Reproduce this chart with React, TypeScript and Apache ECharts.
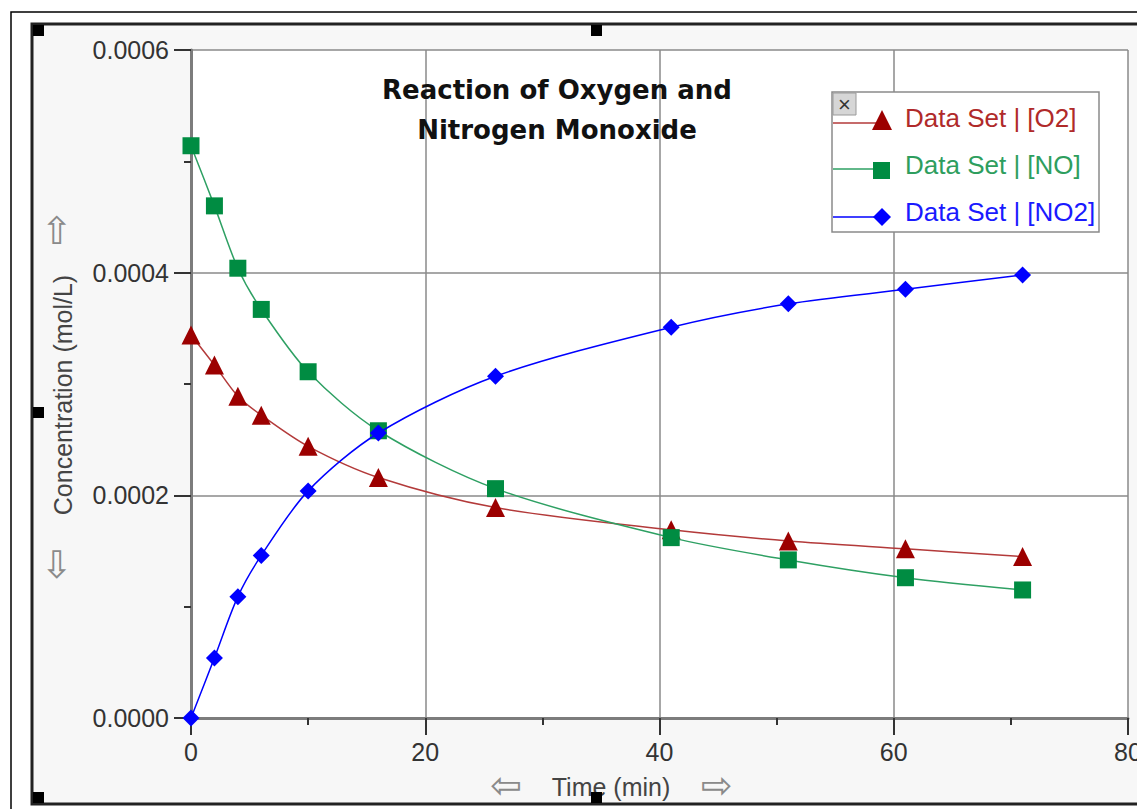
import React, { useEffect, useRef } from "react";
import * as echarts from "echarts";

const times = [0, 2, 4, 6, 10, 16, 26, 41, 51, 61, 71];
const o2 = [0.000344, 0.000317, 0.000289, 0.000272, 0.000244, 0.000216, 0.000189, 0.000169, 0.000159, 0.000152, 0.000145];
const no = [0.000514, 0.00046, 0.000404, 0.000367, 0.000311, 0.000258, 0.000206, 0.000162, 0.000142, 0.000126, 0.000115];
const no2 = [0, 0.000054, 0.000109, 0.000146, 0.000204, 0.000256, 0.000307, 0.000351, 0.000372, 0.000385, 0.000398];
const seriesNames = ["Data Set | [O2]", "Data Set | [NO]", "Data Set | [NO2]"];
const titleLines = ["Reaction of Oxygen and", "Nitrogen Monoxide"];
const xName = "Time (min)";
const yName = "Concentration (mol/L)";

const SANS = "'Liberation Sans', Arial, sans-serif";
const RED_M = "#9c0000";
const RED_L = "#b33a3a";
const RED_T = "#b02a2a";
const GRN_M = "#008c42";
const GRN_L = "#2ea063";
const GRN_T = "#2e9e5e";
const BLU = "#0000ff";

export default function App() {
  const ref = useRef<HTMLDivElement>(null);
  useEffect(() => {
    if (!ref.current) return;
    const chart = echarts.init(ref.current, null, { renderer: "svg" });
    const pair = (arr: number[]) => times.map((t, i) => [t, arr[i]]);
    const handle = (x: number, y: number) => ({
      type: "rect",
      shape: { x, y, width: 11, height: 11 },
      style: { fill: "#000" },
      z: 100,
    });
    const arrow = (ch: string, x: number, y: number) => ({
      type: "text",
      x,
      y,
      style: { text: ch, fontFamily: "'DejaVu Sans'", fontSize: 38, fill: "#8a8a8a", align: "center", verticalAlign: "middle" },
    });
    const option: any = {
      animation: false,
      backgroundColor: "#ffffff",
      grid: {
        left: 191,
        top: 50,
        right: 9,
        bottom: 91,
        show: true,
        backgroundColor: "#ffffff",
        borderWidth: 0,
        outerBoundsMode: "none",
        containLabel: false,
      },
      xAxis: {
        type: "value",
        min: 0,
        max: 80,
        interval: 20,
        axisLine: { show: true, lineStyle: { color: "#7c7c7c", width: 3 } },
        axisTick: { show: true, length: 17, lineStyle: { color: "#333", width: 2 } },
        minorTick: { show: true, splitNumber: 2, length: 7, lineStyle: { color: "#333", width: 2 } },
        splitLine: { show: true, lineStyle: { color: "#8a8a8a", width: 1.5 } },
        axisLabel: { fontSize: 25, color: "#333", fontFamily: SANS, margin: 21 },
      },
      yAxis: {
        type: "value",
        min: 0,
        max: 0.0006,
        interval: 0.0002,
        axisLine: { show: true, lineStyle: { color: "#7c7c7c", width: 3 } },
        axisTick: { show: true, length: 17, lineStyle: { color: "#333", width: 2 } },
        minorTick: { show: true, splitNumber: 2, length: 7, lineStyle: { color: "#333", width: 2 } },
        splitLine: { show: true, lineStyle: { color: "#8a8a8a", width: 1.5 } },
        axisLabel: {
          fontSize: 25,
          color: "#333",
          fontFamily: SANS,
          margin: 22,
          formatter: (v: number) => v.toFixed(4),
        },
      },
      series: [
        {
          type: "line",
          name: seriesNames[0],
          data: pair(o2),
          smooth: 0.3,
          symbol: "triangle",
          symbolSize: [19, 19],
          itemStyle: { color: RED_M },
          lineStyle: { color: RED_L, width: 1.5 },
          z: 3,
        },
        {
          type: "line",
          name: seriesNames[1],
          data: pair(no),
          smooth: 0.3,
          symbol: "rect",
          symbolSize: 17,
          itemStyle: { color: GRN_M },
          lineStyle: { color: GRN_L, width: 1.5 },
          z: 4,
        },
        {
          type: "line",
          name: seriesNames[2],
          data: pair(no2),
          smooth: 0.3,
          symbol: "diamond",
          symbolSize: 17,
          itemStyle: { color: BLU },
          lineStyle: { color: BLU, width: 1.5 },
          z: 5,
        },
      ],
      graphic: [
        // frame
        { type: "rect", shape: { x: 11, y: 12, width: 1300, height: 900 }, style: { fill: "#ffffff", stroke: "#000", lineWidth: 1.5 }, z: -20, silent: true },
        { type: "rect", shape: { x: 32, y: 24, width: 1300, height: 780 }, style: { fill: "#f7f7f7", stroke: "#222", lineWidth: 3 }, z: -10, silent: true },
        handle(33, 25),
        handle(591, 25),
        handle(33, 407),
        handle(33, 792),
        handle(591, 792),
        // title
        {
          type: "text",
          x: 557,
          y: 90,
          style: { text: titleLines[0], fontFamily: "'DejaVu Sans', Verdana, sans-serif", fontWeight: "bold", fontSize: 26, fill: "#111", align: "center", verticalAlign: "middle" },
          z: 50,
        },
        {
          type: "text",
          x: 557,
          y: 130,
          style: { text: titleLines[1], fontFamily: "'DejaVu Sans', Verdana, sans-serif", fontWeight: "bold", fontSize: 26, fill: "#111", align: "center", verticalAlign: "middle" },
          z: 50,
        },
        // axis names & arrows
        {
          type: "text",
          x: 63,
          y: 395,
          rotation: Math.PI / 2,
          style: { text: yName, fontFamily: SANS, fontSize: 25, fill: "#444", align: "center", verticalAlign: "middle" },
        },
        arrow("⇧", 57, 231),
        arrow("⇩", 57, 565),
        { type: "text", x: 611, y: 787, style: { text: xName, fontFamily: SANS, fontSize: 25, fill: "#444", align: "center", verticalAlign: "middle" } },
        arrow("⇦", 506, 785),
        arrow("⇨", 717, 785),
        // legend
        { type: "rect", shape: { x: 832, y: 92, width: 267, height: 140 }, style: { fill: "#ffffff", stroke: "#8a8a8a", lineWidth: 1.5 }, z: 60 },
        { type: "rect", shape: { x: 833, y: 93, width: 23, height: 22 }, style: { fill: "#d6d6d6", stroke: "#9a9a9a", lineWidth: 1 }, z: 61 },
        { type: "text", x: 844.5, y: 104, style: { text: "×", fontFamily: SANS, fontSize: 22, fill: "#333", align: "center", verticalAlign: "middle" }, z: 62 },
        { type: "line", shape: { x1: 833, y1: 123, x2: 880, y2: 123 }, style: { stroke: RED_L, lineWidth: 1.5 }, z: 61 },
        { type: "polygon", shape: { points: [[882, 110], [892, 130], [872, 130]] }, style: { fill: RED_M }, z: 62 },
        { type: "text", x: 905, y: 118, style: { text: seriesNames[0], fontFamily: SANS, fontSize: 26, fill: RED_T, verticalAlign: "middle" }, z: 62 },
        { type: "line", shape: { x1: 833, y1: 169, x2: 880, y2: 169 }, style: { stroke: GRN_L, lineWidth: 1.5 }, z: 61 },
        { type: "rect", shape: { x: 873, y: 162, width: 17, height: 17 }, style: { fill: GRN_M }, z: 62 },
        { type: "text", x: 905, y: 165, style: { text: seriesNames[1], fontFamily: SANS, fontSize: 26, fill: GRN_T, verticalAlign: "middle" }, z: 62 },
        { type: "line", shape: { x1: 833, y1: 217, x2: 880, y2: 217 }, style: { stroke: BLU, lineWidth: 1.5 }, z: 61 },
        { type: "polygon", shape: { points: [[882, 208], [891, 217], [882, 226], [873, 217]] }, style: { fill: BLU }, z: 62 },
        { type: "text", x: 905, y: 212, style: { text: seriesNames[2], fontFamily: SANS, fontSize: 26, fill: "#1a1aff", verticalAlign: "middle" }, z: 62 },
      ],
    };
    chart.setOption(option);
    return () => chart.dispose();
  }, []);
  return (
    <div
      ref={ref}
      style={{ position: "fixed", left: 0, top: 0, width: 1137, height: 809 }}
    />
  );
}
